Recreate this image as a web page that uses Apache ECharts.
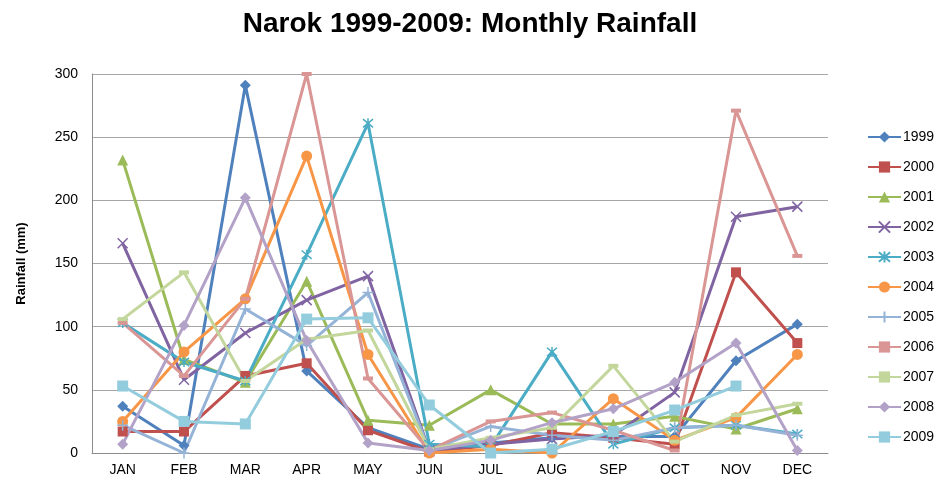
<!DOCTYPE html>
<html>
<head>
<meta charset="utf-8">
<script src="https://cdn.jsdelivr.net/npm/echarts@6/dist/echarts.min.js"></script>
<style>
  html, body { margin: 0; padding: 0; background: #fff; }
  #main { width: 940px; height: 484px; }
</style>
</head>
<body>
<div id="main"></div>
<script>
  var months = ['JAN', 'FEB', 'MAR', 'APR', 'MAY', 'JUN', 'JUL', 'AUG', 'SEP', 'OCT', 'NOV', 'DEC'];
  var yTicks = [0, 50, 100, 150, 200, 250, 300];

  // monthly rainfall (mm)
  var r1999 = [37, 6, 291, 65, 20, 3, 8, 12, 13, 13, 73, 102];
  var r2000 = [17, 17, 61, 71, 18, 1, 6, 16, 12, 7, 143, 87];
  var r2001 = [232, 74, 56, 136, 26, 22, 50, 23, 23, 29, 19, 35];
  var r2002 = [166, 58, 95, 121, 140, 2, 7, 11, 14, 48, 187, 195];
  var r2003 = [103, 72, 57, 157, 261, 7, 5, 80, 7, 20, 22, 15];
  var r2004 = [25, 80, 122, 235, 78, 0, 3, 0, 43, 10, 28, 78];
  var r2005 = [22, 0, 114, 85, 127, 2, 21, 14, 10, 20, 22, 14];
  var r2006 = [103, 61, 122, 300, 59, 2, 25, 32, 18, 2, 271, 156];
  var r2007 = [106, 143, 57, 90, 97, 3, 12, 20, 69, 9, 30, 39];
  var r2008 = [7, 101, 202, 89, 8, 2, 10, 24, 35, 56, 87, 2];
  var r2009 = [53, 25, 23, 106, 107, 38, 0, 3, 17, 34, 53, null];

  var names = ['1999', '2000', '2001', '2002', '2003', '2004', '2005', '2006', '2007', '2008', '2009'];
  var values = [r1999, r2000, r2001, r2002, r2003, r2004, r2005, r2006, r2007, r2008, r2009];
  var colors = ['#4F81BD', '#C0504D', '#9BBB59', '#8064A2', '#4BACC6', '#F79646',
                '#95B3D7', '#D99694', '#C3D69B', '#B3A2C7', '#93CDDD'];

  var crossPath = 'path://M0,0L10,10M10,0L0,10';
  var starPath = 'path://M0,0L10,10M10,0L0,10M5,-1L5,11';
  var plusPath = 'path://M5,0L5,10M0,5L10,5';
  var symbols = ['diamond', 'rect', 'triangle', crossPath, starPath, 'circle',
                 plusPath, 'rect', 'rect', 'diamond', 'rect'];
  var sizes = [11, 10, 11, 10, 10, 11, 11, [10, 4], [10, 4], 11, 11];
  var stroked = [false, false, false, true, true, false, true, false, false, false, false];

  var font = 'Liberation Sans, Arial, sans-serif';

  var series = [];
  for (var i = 0; i < names.length; i++) {
    series.push({
      name: names[i],
      type: 'line',
      data: values[i],
      symbol: symbols[i],
      symbolSize: sizes[i],
      showAllSymbol: true,
      connectNulls: false,
      lineStyle: { width: 3, color: colors[i] },
      itemStyle: stroked[i]
        ? { color: colors[i], borderColor: colors[i], borderWidth: 1.5 }
        : { color: colors[i] }
    });
  }

  var myChart = echarts.init(document.getElementById('main'));
  var option = {
    animation: false,
    color: colors,
    title: {
      text: 'Narok 1999-2009: Monthly Rainfall',
      left: 'center',
      top: 5,
      textStyle: { fontFamily: font, fontSize: 28, fontWeight: 'bold', color: '#000' }
    },
    legend: {
      orient: 'vertical',
      left: 862,
      top: 125,
      itemWidth: 33,
      itemHeight: 14,
      itemGap: 16,
      data: names,
      textStyle: { fontFamily: font, fontSize: 14, color: '#000', padding: [0, 0, 0, -3] }
    },
    grid: { left: 92, right: 112, top: 74, bottom: 31, containLabel: false },
    xAxis: {
      type: 'category',
      data: months,
      boundaryGap: true,
      axisLine: { lineStyle: { color: '#8c8c8c', width: 1 } },
      axisTick: { show: false },
      axisLabel: { fontFamily: font, fontSize: 14, color: '#000', margin: 10 }
    },
    yAxis: {
      type: 'value',
      min: yTicks[0],
      max: yTicks[yTicks.length - 1],
      interval: 50,
      name: 'Rainfall (mm)',
      nameLocation: 'middle',
      nameRotate: 90,
      nameGap: 64,
      nameTextStyle: { fontFamily: font, fontSize: 13, fontWeight: 'bold', color: '#000' },
      axisLine: { show: true, lineStyle: { color: '#8c8c8c', width: 1 } },
      axisTick: { show: false },
      axisLabel: { fontFamily: font, fontSize: 14, color: '#000', margin: 14 },
      splitLine: { lineStyle: { color: '#a6a6a6', width: 1 } }
    },
    series: series
  };
  myChart.setOption(option);
</script>
</body>
</html>
